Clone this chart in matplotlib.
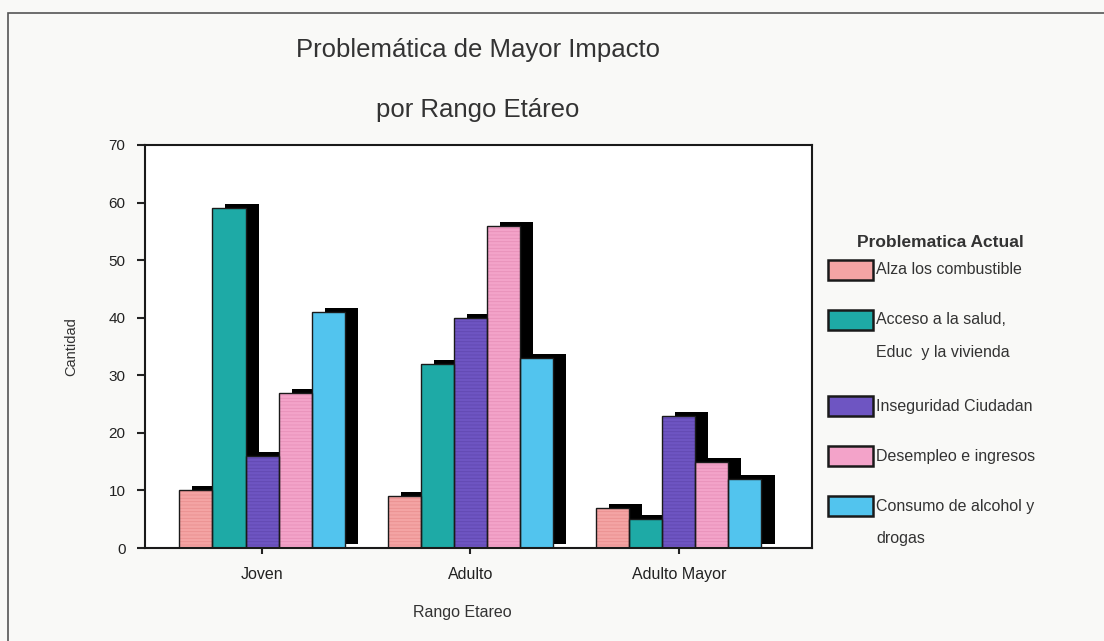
import numpy as np
import matplotlib.pyplot as plt
from matplotlib.patches import Rectangle

groups = ["Joven", "Adulto", "Adulto Mayor"]
series = ["Alza los combustible",
          "Acceso a la salud,\nEduc  y la vivienda",
          "Inseguridad Ciudadan",
          "Desempleo e ingresos",
          "Consumo de alcohol y\ndrogas"]
values = [[10, 9, 7],
          [59, 32, 5],
          [16, 40, 23],
          [27, 56, 15],
          [41, 33, 12]]
colors = ["#f4a4a4", "#1eaaa6", "#6e55c2", "#f3a3c9", "#52c4ee"]
stripes = ["#ea9090", "#1a9c9a", "#6148b0", "#e890b9", "#52c4ee"]

W, H = 1104, 641
plt.rcParams['font.family'] = ['Liberation Sans', 'DejaVu Sans']
plt.rcParams['hatch.linewidth'] = 0.6

fig = plt.figure(figsize=(W / 100, H / 100), dpi=100, facecolor="#f9f9f7")
# outer frame of the scanned chart
fig.add_artist(Rectangle((8 / W, -0.05), 1.2, 1 - 13 / H + 0.05, transform=fig.transFigure,
                         fill=False, ec="#555555", lw=1.2))

ax = fig.add_axes([145 / W, 1 - 548 / H, (812 - 145) / W, (548 - 145) / H])
ax.set_facecolor("white")

x = np.arange(len(groups))
bw = 0.159
dx = 0.0625   # shadow offset (right)
dy = 0.7      # shadow offset (up)
n = len(series)
for i in range(n):
    pos = x + (i - (n - 1) / 2) * bw
    ax.bar(pos + dx, values[i], bw, bottom=dy, color="black", zorder=1)
for i in range(n):
    pos = x + (i - (n - 1) / 2) * bw
    ax.bar(pos, values[i], bw, color=colors[i], edgecolor=stripes[i], lw=0,
           hatch="-----" if i in (0, 2, 3) else None, zorder=2)
    ax.bar(pos, values[i], bw, fill=False, edgecolor="#1a1a1a", lw=1.0, zorder=3)

ax.set_xlim(-0.5625, 2.64)
ax.set_ylim(0, 70)
ax.set_yticks(range(0, 71, 10))
ax.set_xticks(x)
ax.set_xticklabels(groups)
ax.tick_params(axis="y", length=6, width=1.5, labelsize=11, pad=8, colors="#222222")
ax.tick_params(axis="x", length=4, width=1.5, labelsize=11.5, pad=10, colors="#222222")
for s in ax.spines.values():
    s.set_linewidth(1.5)
    s.set_color("#1a1a1a")

ax.set_ylabel("Cantidad", fontsize=10.5, labelpad=22, color="#333333")
fig.text(462 / W, 1 - 612 / H, "Rango Etareo", ha="center", va="center", fontsize=11.5, color="#333333")

fig.text(478 / W, 1 - 50 / H, "Problemática de Mayor Impacto", ha="center", va="center",
         fontsize=18.5, color="#333333")
fig.text(478 / W, 1 - 110 / H, "por Rango Etáreo", ha="center", va="center",
         fontsize=18.5, color="#333333")

# legend
fig.text(940 / W, 1 - 242 / H, "Problematica Actual", ha="center", va="center",
         fontsize=12.5, fontweight="semibold", color="#333333")
ys = [270, 320, 406, 456, 506]
for i in range(n):
    fig.add_artist(Rectangle((828 / W, 1 - (ys[i] + 10) / H), 45 / W, 20 / H,
                             transform=fig.transFigure, fc=colors[i], ec="#1a1a1a", lw=1.8))
    lines = series[i].split("\n")
    fig.text(876 / W, 1 - ys[i] / H, lines[0], ha="left", va="center", fontsize=11.5, color="#333333")
    if len(lines) > 1:
        fig.text(876 / W, 1 - (ys[i] + 33) / H, lines[1], ha="left", va="center",
                 fontsize=11.5, color="#333333")

fig.savefig("out.png", dpi=100, facecolor=fig.get_facecolor())
